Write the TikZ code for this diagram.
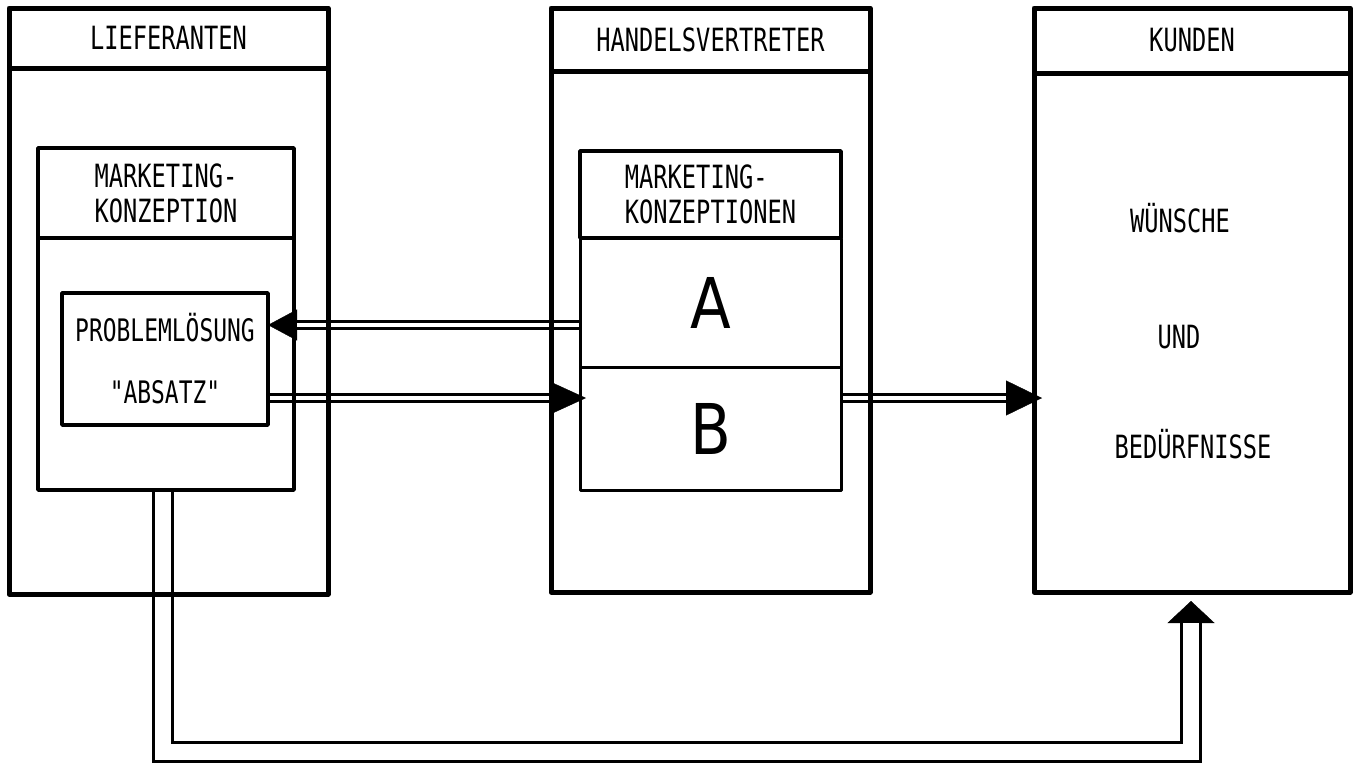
\documentclass[tikz,border=0pt]{standalone}
\usepackage{fontspec}
\newfontfamily\stencil{DejaVu Sans Mono}[FakeStretch=0.74]
\newfontfamily\bigletter{DejaVu Sans}[FakeStretch=0.85]
\usetikzlibrary{arrows.meta,backgrounds}

\begin{document}
\begin{tikzpicture}[x=1pt, y=-1pt]
    \useasboundingbox (0,0) rectangle (1354,766);

    \tikzset{BoxStyle/.style={draw, line width=5pt, inner sep=0pt, outer sep=0pt,
                              anchor=north west, line join=round, align=left,
                              font=\stencil\fontsize{32}{35}\selectfont}}
    \tikzset{Size/.style 2 args={minimum width=#1pt, minimum height=#2pt}}
    \node[BoxStyle, Size={319}{60}]  (lief)       at (9,8)    {LIEFERANTEN};
    \node[BoxStyle, Size={319}{526}] (liefbody)   at (9,68)   {};
    \node[BoxStyle, Size={319}{63}]  (hv)         at (551,8)  {HANDELSVERTRETER};
    \node[BoxStyle, Size={319}{521}] (hvbody)     at (551,71) {};
    \node[BoxStyle, Size={316}{65}]  (kunden)     at (1034,8) {KUNDEN};
    \node[BoxStyle, Size={316}{519}] (kundenbody) at (1034,73) {};

    \tikzset{BoxStyle/.append style={line width=3.5pt}}
    \node[BoxStyle, Size={256}{90}]  (mk)     at (38,148) {MARKETING-\\KONZEPTION};
    \node[BoxStyle, Size={256}{252}] (mkbody) at (38,238) {};
    \node[BoxStyle, Size={206}{132}, align=center,
          font=\stencil\fontsize{31}{62}\selectfont] (pl) at (62,293) {PROBLEMLÖSUNG\\"ABSATZ"};
    \node[BoxStyle, Size={261}{87}]  (mks) at (580,151) {MARKETING-\\KONZEPTIONEN};
    \tikzset{BoxStyle/.append style={line width=3pt, font=\bigletter\fontsize{70}{72}\selectfont}}
    \node[BoxStyle, Size={261}{129}] (ka)  at (580,238) {A};
    \node[BoxStyle, Size={261}{123}] (kb)  at (580,367) {B};

    \tikzset{TextStyle/.style={font=\stencil\fontsize{32}{35}\selectfont}}
    \node[TextStyle] (wuensche) at (1180,218) {WÜNSCHE};
    \node[TextStyle] (und)      at (1179,337) {UND};
    \node[TextStyle] (beduerf)  at (1193,444) {BEDÜRFNISSE};

    \coordinate (yA) at (0,325);
    \coordinate (yB) at (0,398);
    \coordinate (yU) at (0,752);
    \coordinate (xL) at (163,0);
    \coordinate (xK) at (1191,0);

    \tikzset{Pipe/.style={double, double distance=4pt, line width=3pt}}
    \tikzset{Head/.style 2 args={line width=0.4pt, -{Triangle[length=#1pt, width=#2pt]}}}
    \begin{pgfonlayer}{background}
        \draw[Head={29}{31}] (ka.west |- yA) -- (pl.east |- yA);
        \draw[Pipe, shorten >=29pt] (ka.west |- yA) -- (pl.east |- yA);

        \draw[Head={34}{31}, shorten >=-6pt] (pl.east |- yB) -- (kb.west |- yB);
        \draw[Pipe, shorten >=28pt] (pl.east |- yB) -- (kb.west |- yB);

        \draw[Head={36}{35}, shorten >=-8pt] (kb.east |- yB) -- (kundenbody.west |- yB);
        \draw[Pipe, shorten >=28pt] (kb.east |- yB) -- (kundenbody.west |- yB);

        \draw[Head={22}{47}, shorten >=9pt] (xL |- mkbody.south) -- (xL |- yU) -| (kundenbody.south -| xK);
        \draw[Pipe, double distance=16pt, shorten >=31pt] (xL |- mkbody.south) -- (xL |- yU) -| (kundenbody.south -| xK);
    \end{pgfonlayer}
\end{tikzpicture}
\end{document}
